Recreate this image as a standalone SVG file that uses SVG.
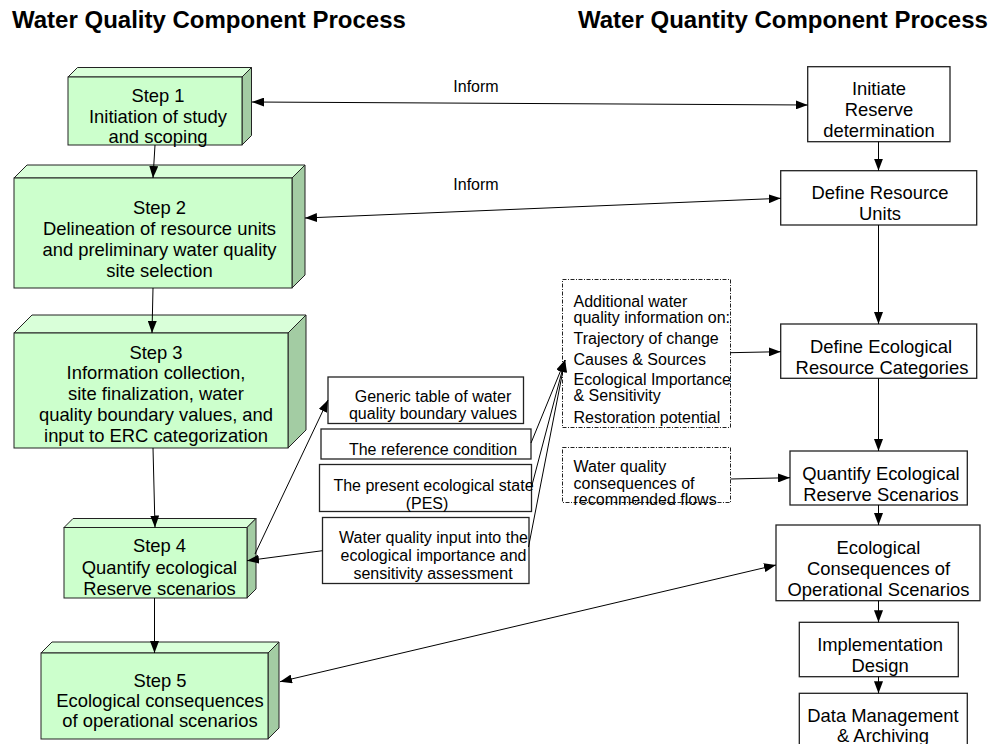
<svg xmlns="http://www.w3.org/2000/svg" width="997" height="744" viewBox="0 0 997 744">
<style>
text{font-family:"Liberation Sans",Arial,sans-serif;fill:#000}
.title{font-size:24px;font-weight:bold}
.b{font-size:18.4px;text-anchor:middle}
.m{font-size:16px;text-anchor:middle}
.d{font-size:16px}
.inf{font-size:16px;text-anchor:middle}
.front{fill:#CCFFCC;stroke:#222;stroke-width:1}
.top{fill:#D9FFD9;stroke:#222;stroke-width:1}
.side{fill:#A3CCA3;stroke:#222;stroke-width:1}
.box{fill:#fff;stroke:#222;stroke-width:1.3}
.dot{fill:#fff;stroke:#222;stroke-width:1;stroke-dasharray:4 1.5 1 1.5}
.c line{stroke:#000;stroke-width:1;fill:none}
</style>
<defs>
<marker id="ah" markerUnits="userSpaceOnUse" markerWidth="12" markerHeight="9" refX="12" refY="4.5" orient="auto"><path d="M0,0 L12,4.5 L0,9 z" fill="#000"/></marker>
<marker id="as" markerUnits="userSpaceOnUse" markerWidth="12" markerHeight="9" refX="12" refY="4.5" orient="auto-start-reverse"><path d="M0,0 L12,4.5 L0,9 z" fill="#000"/></marker>
</defs>
<rect width="997" height="744" fill="#fff"/>
<text class="title" x="12" y="28">Water Quality Component Process</text>
<text class="title" x="578" y="28">Water Quantity Component  Process</text>

<g id="step1">
<polygon class="top" points="68,77 77.5,67.5 251.5,67.5 242,77"/>
<polygon class="side" points="242,77 251.5,67.5 251.5,135.5 242,145"/>
<rect class="front" x="68" y="77" width="174" height="68"/>
<text class="b" x="158" y="102">Step 1</text>
<text class="b" x="158" y="122.5">Initiation of study</text>
<text class="b" x="158" y="143">and scoping</text>
</g>
<g id="step2">
<polygon class="top" points="14,178 27,165 305,165 292,178"/>
<polygon class="side" points="292,178 305,165 305,275 292,288"/>
<rect class="front" x="14" y="178" width="278" height="110"/>
<text class="b" x="159.5" y="213.5">Step 2</text>
<text class="b" x="159.5" y="234.5">Delineation of resource units</text>
<text class="b" x="159.5" y="255.5">and preliminary water quality</text>
<text class="b" x="159.5" y="276.5">site selection</text>
</g>
<g id="step3">
<polygon class="top" points="14,333 32,315 306,315 288,333"/>
<polygon class="side" points="288,333 306,315 306,430 288,448"/>
<rect class="front" x="14" y="333" width="274" height="115"/>
<text class="b" x="156" y="358.5">Step 3</text>
<text class="b" x="156" y="379.3">Information collection,</text>
<text class="b" x="156" y="400.1">site finalization, water</text>
<text class="b" x="156" y="420.9">quality boundary values, and</text>
<text class="b" x="156" y="441.7">input to ERC categorization</text>
</g>
<g id="step4">
<polygon class="top" points="64,527.5 73,518.5 256,518.5 247,527.5"/>
<polygon class="side" points="247,527.5 256,518.5 256,589 247,598"/>
<rect class="front" x="64" y="527.5" width="183" height="70.5"/>
<text class="b" x="159.5" y="552">Step 4</text>
<text class="b" x="159.5" y="573.5">Quantify ecological</text>
<text class="b" x="159.5" y="595">Reserve scenarios</text>
</g>
<g id="step5">
<polygon class="top" points="41,653 52,642 279,642 268,653"/>
<polygon class="side" points="268,653 279,642 279,728 268,739"/>
<rect class="front" x="41" y="653" width="227" height="86"/>
<text class="b" x="160" y="686.5">Step 5</text>
<text class="b" x="160" y="706.5">Ecological consequences</text>
<text class="b" x="160" y="727">of operational scenarios</text>
</g>

<g id="generic">
<rect class="box" x="328" y="377" width="195.5" height="46.5"/>
<text class="m" x="433" y="401.5">Generic table of water</text>
<text class="m" x="433" y="418.5">quality boundary values</text>
</g>
<g id="reference">
<rect class="box" x="321" y="429" width="210" height="30"/>
<text class="m" x="433" y="455">The reference condition</text>
</g>
<g id="pes">
<rect class="box" x="319.5" y="464.5" width="212" height="47"/>
<text class="m" x="433.5" y="490.5">The present ecological state</text>
<text class="m" x="427" y="509">(PES)</text>
</g>
<g id="wqinput">
<rect class="box" x="322.5" y="517.5" width="206.5" height="66"/>
<text class="m" x="433.5" y="542.5">Water quality input into the</text>
<text class="m" x="433.5" y="561">ecological importance and</text>
<text class="m" x="433" y="578.5">sensitivity assessment</text>
</g>

<g id="additional">
<rect class="dot" x="562.5" y="279.5" width="168" height="148"/>
<text class="d" x="573.5" y="306.5">Additional water</text>
<text class="d" x="573.5" y="323.3">quality information on:</text>
<text class="d" x="573.5" y="344">Trajectory of change</text>
<text class="d" x="573.5" y="365">Causes &amp; Sources</text>
<text class="d" x="573.5" y="385">Ecological Importance</text>
<text class="d" x="573.5" y="400.5">&amp; Sensitivity</text>
<text class="d" x="573.5" y="423.3">Restoration potential</text>
</g>
<g id="wqconseq">
<rect class="dot" x="562.5" y="447.5" width="168" height="55"/>
<text class="d" x="573.5" y="472.3">Water quality</text>
<text class="d" x="573.5" y="488.7">consequences of</text>
<text class="d" x="573.5" y="505.1">recommended flows</text>
</g>

<g id="initiate">
<rect class="box" x="807.7" y="66.7" width="142.3" height="75"/>
<text class="b" x="879" y="95">Initiate</text>
<text class="b" x="879" y="116">Reserve</text>
<text class="b" x="879" y="137">determination</text>
</g>
<g id="resunits">
<rect class="box" x="780.7" y="170.7" width="196" height="54.3"/>
<text class="b" x="880" y="199.3">Define Resource</text>
<text class="b" x="880" y="220">Units</text>
</g>
<g id="defeco">
<rect class="box" x="780.7" y="324" width="196" height="54.3"/>
<text class="b" x="881" y="353.3">Define Ecological</text>
<text class="b" x="882" y="373.5">Resource Categories</text>
</g>
<g id="quantify">
<rect class="box" x="790" y="451" width="177.3" height="54"/>
<text class="b" x="881" y="480">Quantify Ecological</text>
<text class="b" x="881" y="501">Reserve Scenarios</text>
</g>
<g id="ecoconseq">
<rect class="box" x="776" y="525" width="204" height="75.7"/>
<text class="b" x="878.5" y="554">Ecological</text>
<text class="b" x="878.5" y="575">Consequences of</text>
<text class="b" x="878.5" y="595.7">Operational Scenarios</text>
</g>
<g id="implement">
<rect class="box" x="799.3" y="622.3" width="159" height="54.4"/>
<text class="b" x="880" y="650.7">Implementation</text>
<text class="b" x="880" y="671.7">Design</text>
</g>
<g id="datamgmt">
<rect class="box" x="799.3" y="693.3" width="168" height="56"/>
<text class="b" x="883" y="721.7">Data Management</text>
<text class="b" x="883" y="741.7">&amp; Archiving</text>
</g>

<g id="connectors" class="c">
<line x1="155" y1="145" x2="153" y2="178" marker-end="url(#ah)"/>
<line x1="153" y1="288" x2="152" y2="333" marker-end="url(#ah)"/>
<line x1="153" y1="448" x2="155" y2="527.5" marker-end="url(#ah)"/>
<line x1="154.5" y1="598" x2="154.5" y2="653" marker-end="url(#ah)"/>
<line x1="252" y1="102" x2="807.7" y2="105" marker-start="url(#as)" marker-end="url(#ah)"/>
<line x1="305" y1="218" x2="780.7" y2="198.3" marker-start="url(#as)" marker-end="url(#ah)"/>
<line x1="878.5" y1="141.7" x2="878.5" y2="170.7" marker-end="url(#ah)"/>
<line x1="878.5" y1="225" x2="878.5" y2="324" marker-end="url(#ah)"/>
<line x1="878.5" y1="378.3" x2="878.5" y2="451" marker-end="url(#ah)"/>
<line x1="878.5" y1="505" x2="878.5" y2="525" marker-end="url(#ah)"/>
<line x1="878.5" y1="600.7" x2="878.5" y2="622.3" marker-end="url(#ah)"/>
<line x1="878.5" y1="676.7" x2="878.5" y2="693.3" marker-end="url(#ah)"/>
<line x1="730.5" y1="352.7" x2="780.7" y2="351.7" marker-end="url(#ah)"/>
<line x1="730.5" y1="479" x2="790" y2="477.7" marker-end="url(#ah)"/>
<line x1="280" y1="681.7" x2="776" y2="565" marker-start="url(#as)" marker-end="url(#ah)"/>
<line x1="255" y1="554" x2="328" y2="400" marker-end="url(#ah)"/>
<line x1="322.5" y1="550.7" x2="247" y2="560.7" marker-end="url(#ah)"/>
<line x1="531" y1="443" x2="565" y2="360" marker-end="url(#ah)"/>
<line x1="531.5" y1="487" x2="565" y2="360" marker-end="url(#ah)"/>
<line x1="528.5" y1="547" x2="565" y2="360" marker-end="url(#ah)"/>
</g>
<text class="inf" x="476" y="92">Inform</text>
<text class="inf" x="476" y="190">Inform</text>
</svg>
